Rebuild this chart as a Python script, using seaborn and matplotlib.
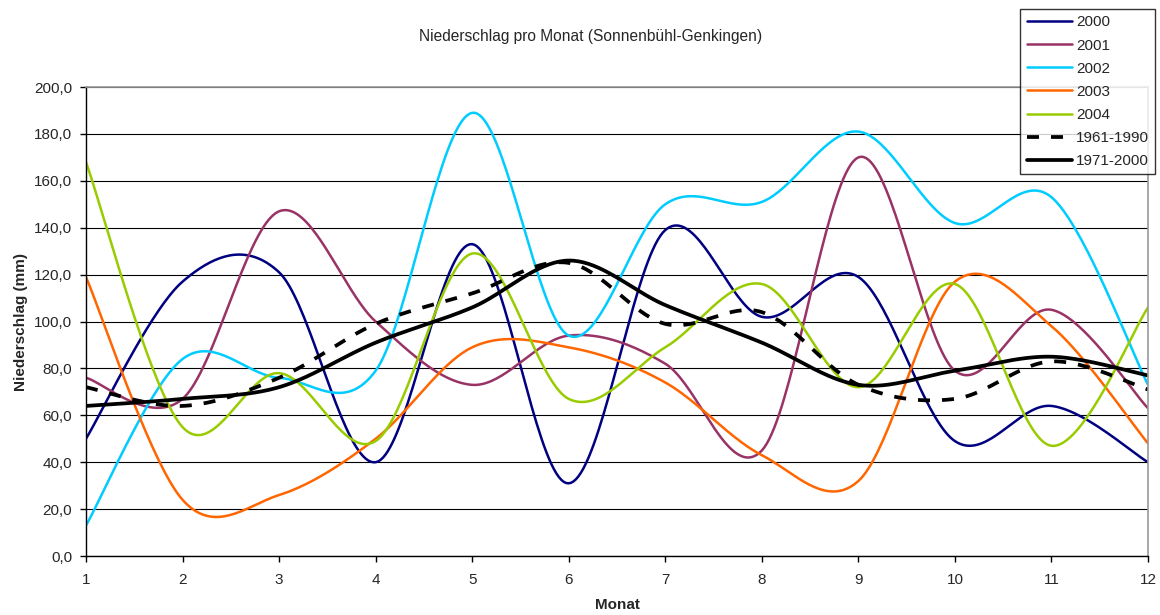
import numpy as np
import pandas as pd
import matplotlib
matplotlib.use("Agg")
import matplotlib.pyplot as plt
import seaborn as sns
from matplotlib.ticker import FuncFormatter

# Monthly precipitation (mm)
monat = [1, 2, 3, 4, 5, 6, 7, 8, 9, 10, 11, 12]
j2000 = [50, 117, 121, 40, 133, 31, 139, 102, 119, 49, 64, 40]
j2001 = [76, 67, 147, 100, 73, 94, 82, 45, 170, 79, 105, 63]
j2002 = [13, 84, 76, 79, 189, 94, 150, 151, 181, 142, 153, 73]
j2003 = [119, 24, 26, 50, 89, 89, 74, 43, 32, 117, 98, 48]
j2004 = [168, 55, 78, 49, 129, 67, 89, 116, 72, 116, 47, 106]
mittel_6190 = [72, 64, 76, 99, 112, 125, 99, 104, 73, 67, 83, 71]
mittel_7100 = [64, 67, 72, 91, 106, 126, 107, 91, 73, 79, 85, 77]

series = [
    ("2000", j2000, "#000080", 1.8, "-"),
    ("2001", j2001, "#993366", 1.8, "-"),
    ("2002", j2002, "#00CCFF", 1.8, "-"),
    ("2003", j2003, "#FF6600", 1.8, "-"),
    ("2004", j2004, "#99CC00", 1.8, "-"),
    ("1961-1990", mittel_6190, "black", 2.7, "--"),
    ("1971-2000", mittel_7100, "black", 2.7, "-"),
]


def smooth(x, y, n=40):
    # Excel-like smoothed line: cubic Bezier through the points
    x = np.asarray(x, float)
    y = np.asarray(y, float)
    px = np.concatenate([[x[0]], x, [x[-1]]])
    py = np.concatenate([[y[0]], y, [y[-1]]])
    t = np.linspace(0, 1, n)[:, None]
    xs, ys = [], []
    for i in range(1, len(px) - 2):
        p0 = np.array([px[i], py[i]])
        p3 = np.array([px[i + 1], py[i + 1]])
        p1 = p0 + (p3 - np.array([px[i - 1], py[i - 1]])) / 6
        p2 = p3 - (np.array([px[i + 2], py[i + 2]]) - p0) / 6
        b = ((1 - t) ** 3) * p0 + 3 * ((1 - t) ** 2) * t * p1 + 3 * (1 - t) * t ** 2 * p2 + t ** 3 * p3
        xs.append(b[:, 0])
        ys.append(b[:, 1])
    return np.concatenate(xs), np.concatenate(ys)


sns.set_style("white")
plt.rcParams["font.family"] = ["Liberation Sans", "DejaVu Sans"]

fig = plt.figure(figsize=(11.6, 6.15), dpi=100)
ax = fig.add_axes([0.0741, 0.0959, 0.9156, 0.7626])

for name, vals, col, lw, ls in series:
    sx, sy = smooth(monat, vals)
    df = pd.DataFrame({"Monat": sx, "Niederschlag": sy})
    sns.lineplot(data=df, x="Monat", y="Niederschlag", ax=ax, color=col,
                 lw=lw, sort=False, label=name, estimator=None)
    if ls == "--":
        ax.lines[-1].set_dashes((3.2, 3.2))

ax.set_xlim(1, 12)
ax.set_ylim(0, 200)
ax.set_xticks(monat)
ax.set_yticks(np.arange(0, 201, 20))
ax.yaxis.set_major_formatter(FuncFormatter(lambda v, p: f"{v:.1f}".replace(".", ",")))
ax.grid(axis="y", color="black", lw=0.8)
ax.grid(axis="x", visible=False)
ax.set_axisbelow(True)
for s in ["top", "right"]:
    ax.spines[s].set_color("#999999")
    ax.spines[s].set_linewidth(1.2)
for s in ["left", "bottom"]:
    ax.spines[s].set_color("black")
    ax.spines[s].set_linewidth(1.0)
ax.tick_params(axis="both", direction="out", length=4, width=1, color="black",
               labelsize=11, left=True, bottom=True)
ax.tick_params(axis="x", pad=8)
ax.tick_params(axis="y", pad=6)
ax.set_xlabel("Monat", fontsize=11, fontweight="bold", labelpad=8)
ax.set_ylabel("Niederschlag (mm)", fontsize=11, fontweight="bold", labelpad=4)
fig.text(0.509, 0.941, "Niederschlag pro Monat (Sonnenbühl-Genkingen)",
         ha="center", va="center", fontsize=11.2)

handles, labels = ax.get_legend_handles_labels()
ax.get_legend().remove()
leg = fig.legend(handles, labels, loc="upper right", bbox_to_anchor=(0.996, 0.985),
                 fontsize=11, frameon=True, fancybox=False, handlelength=3.0,
                 handletextpad=0.25, labelspacing=0.6, borderpad=0.4,
                 borderaxespad=0)
leg.get_frame().set_edgecolor("black")
leg.get_frame().set_linewidth(1.0)

fig.savefig("out.png", dpi=100, facecolor="white")
